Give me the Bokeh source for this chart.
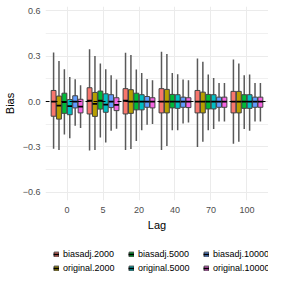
from bokeh.plotting import figure
from bokeh.layouts import column
from bokeh.models import (ColumnDataSource, FactorRange, FixedTicker, Span,
                          Legend, LegendItem, PrintfTickFormatter, Range1d)
from bokeh.transform import dodge
from bokeh.embed import file_html
from bokeh.resources import INLINE

lags = ["0", "5", "20", "40", "70", "100"]
series = ["biasadj.2000", "original.2000", "biasadj.5000",
          "original.5000", "biasadj.10000", "original.10000"]
colors = ["#F8766D", "#B79F00", "#00BA38", "#00BFC4", "#619CFF", "#F564E3"]
y_ticks = [-0.6, -0.3, 0.0, 0.3, 0.6]
y_minor = [-0.45, -0.15, 0.15, 0.45]
ref_line = 0.0

# biasadj.2000
ba2000_hi = [0.323, 0.345, 0.322, 0.329, 0.284, 0.278]
ba2000_q3 = [0.073, 0.091, 0.085, 0.085, 0.073, 0.067]
ba2000_md = [0.000, 0.005, 0.005, 0.000, 0.000, 0.000]
ba2000_q1 = [-0.097, -0.082, -0.082, -0.075, -0.075, -0.075]
ba2000_lo = [-0.311, -0.323, -0.320, -0.320, -0.300, -0.278]
# original.2000
or2000_hi = [0.267, 0.300, 0.307, 0.313, 0.262, 0.251]
or2000_q3 = [0.036, 0.060, 0.078, 0.080, 0.062, 0.067]
or2000_md = [-0.027, -0.015, 0.000, 0.000, 0.000, 0.000]
or2000_q1 = [-0.116, -0.098, -0.078, -0.075, -0.075, -0.075]
or2000_lo = [-0.320, -0.320, -0.313, -0.293, -0.265, -0.265]
# biasadj.5000
ba5000_hi = [0.213, 0.251, 0.211, 0.189, 0.178, 0.173]
ba5000_q3 = [0.055, 0.069, 0.055, 0.047, 0.047, 0.045]
ba5000_md = [-0.003, 0.005, 0.000, 0.000, 0.000, 0.000]
ba5000_q1 = [-0.078, -0.050, -0.055, -0.042, -0.049, -0.045]
ba5000_lo = [-0.218, -0.238, -0.260, -0.189, -0.189, -0.182]
# original.5000
or5000_hi = [0.162, 0.213, 0.189, 0.180, 0.155, 0.178]
or5000_q3 = [0.013, 0.051, 0.045, 0.045, 0.045, 0.045]
or5000_md = [-0.030, -0.020, 0.000, 0.000, 0.000, 0.000]
or5000_q1 = [-0.087, -0.071, -0.055, -0.045, -0.049, -0.045]
or5000_lo = [-0.242, -0.270, -0.189, -0.189, -0.182, -0.193]
# biasadj.10000
ba10000_hi = [0.147, 0.173, 0.149, 0.145, 0.122, 0.122]
ba10000_q3 = [0.038, 0.045, 0.033, 0.029, 0.029, 0.029]
ba10000_md = [0.000, 0.000, 0.000, 0.000, 0.000, 0.000]
ba10000_q1 = [-0.042, -0.040, -0.038, -0.038, -0.038, -0.038]
ba10000_lo = [-0.160, -0.193, -0.153, -0.145, -0.131, -0.131]
# original.10000
or10000_hi = [0.107, 0.145, 0.140, 0.140, 0.122, 0.122]
or10000_q3 = [0.015, 0.025, 0.025, 0.025, 0.029, 0.029]
or10000_md = [-0.033, -0.022, 0.000, 0.000, 0.000, 0.000]
or10000_q1 = [-0.075, -0.060, -0.042, -0.040, -0.038, -0.038]
or10000_lo = [-0.175, -0.180, -0.149, -0.138, -0.131, -0.131]

stats = [
    (ba2000_lo, ba2000_q1, ba2000_md, ba2000_q3, ba2000_hi),
    (or2000_lo, or2000_q1, or2000_md, or2000_q3, or2000_hi),
    (ba5000_lo, ba5000_q1, ba5000_md, ba5000_q3, ba5000_hi),
    (or5000_lo, or5000_q1, or5000_md, or5000_q3, or5000_hi),
    (ba10000_lo, ba10000_q1, ba10000_md, ba10000_q3, ba10000_hi),
    (or10000_lo, or10000_q1, or10000_md, or10000_q3, or10000_hi),
]

FONT = "Liberation Sans"
Y0, Y1 = -0.653, 0.627

p = figure(x_range=FactorRange(factors=lags, range_padding=0.1,
                               range_padding_units="absolute"),
           y_range=Range1d(Y0, Y1),
           width=268, height=234,
           output_backend="svg", toolbar_location=None,
           min_border_left=36, min_border_right=0, min_border_top=6,
           min_border_bottom=34)
p.outline_line_color = None
p.background_fill_color = "white"

# legend-only figure (holds hidden copies of the glyphs for the keys)
lf = figure(x_range=FactorRange(factors=lags), y_range=Range1d(Y0, Y1),
            width=268, height=40, output_backend="svg",
            toolbar_location=None, min_border=0,
            x_axis_location=None, y_axis_location=None)
lf.grid.visible = False
lf.outline_line_color = None

spacing = 0.15
bw = 0.135


def draw(fig, src, off, col):
    w = fig.segment(x0=dodge("lag", off, range=fig.x_range), y0="lo",
                    x1=dodge("lag", off, range=fig.x_range), y1="hi",
                    source=src, line_color="#595959", line_width=1.5)
    b = fig.vbar(x=dodge("lag", off, range=fig.x_range), width=bw,
                 bottom="q1", top="q3", source=src, fill_color=col,
                 line_color="#444444", line_width=1)
    m = fig.segment(x0=dodge("lag", off - bw / 2, range=fig.x_range),
                    y0="md",
                    x1=dodge("lag", off + bw / 2, range=fig.x_range),
                    y1="md", source=src, line_color="black",
                    line_width=1.8)
    return w, b, m


legend_rs = []
for i, (name, col, st) in enumerate(zip(series, colors, stats)):
    lo, q1, md, q3, hi = st
    src = ColumnDataSource(dict(lag=lags, lo=lo, q1=q1, md=md, q3=q3, hi=hi))
    off = spacing * (i - 2.5)
    draw(p, src, off, col)
    w, b, m = draw(lf, src, off, col)
    for r in (w, b, m):
        r.visible = False
    legend_rs.append((name, [b, m]))

zero = Span(location=ref_line, dimension="width", line_color="black",
            line_width=1, line_dash="4 4")
p.add_layout(zero)

# grids
p.xgrid.grid_line_color = "#EBEBEB"
p.xgrid.grid_line_width = 1
p.ygrid.grid_line_color = "#EBEBEB"
p.ygrid.grid_line_width = 1
p.ygrid.minor_grid_line_color = "#F0F0F0"
p.ygrid.minor_grid_line_width = 1

p.yaxis.ticker = FixedTicker(ticks=y_ticks, minor_ticks=y_minor)
p.yaxis.formatter = PrintfTickFormatter(format="%.1f")
p.yaxis.major_label_overrides = {-0.6: "\u22120.6", -0.3: "\u22120.3"}

for ax in (p.xaxis[0], p.yaxis[0]):
    ax.axis_line_color = None
    ax.major_tick_line_color = None
    ax.minor_tick_line_color = None
    ax.major_tick_out = 0
    ax.major_tick_in = 0
    ax.minor_tick_out = 0
    ax.major_label_text_font = FONT
    ax.major_label_text_font_size = "9px"
    ax.major_label_text_color = "#4D4D4D"
    ax.axis_label_text_font = FONT
    ax.axis_label_text_font_size = "11px"
    ax.axis_label_text_font_style = "normal"
    ax.axis_label_text_color = "black"

p.xaxis.axis_label = "Lag"
p.yaxis.axis_label = "Bias"
p.xaxis.major_label_standoff = 6
p.xaxis.axis_label_standoff = 3
p.yaxis.major_label_standoff = 5
p.yaxis.axis_label_standoff = 4

order = [0, 2, 4, 1, 3, 5]
items = [LegendItem(label=legend_rs[k][0], renderers=legend_rs[k][1])
         for k in order]
legend = Legend(items=items, orientation="horizontal", nrows=2,
                location=(8, 1), label_text_font=FONT,
                label_text_font_size="9px", label_text_color="black",
                glyph_width=6, glyph_height=6, label_standoff=4,
                label_width=62, label_height=11,
                spacing=3, padding=0, margin=0,
                inactive_fill_alpha=0,
                border_line_color=None, background_fill_alpha=0)
lf.add_layout(legend, "center")

layout = column(p, lf, spacing=0)
open("out.html", "w").write(file_html(layout, INLINE))
